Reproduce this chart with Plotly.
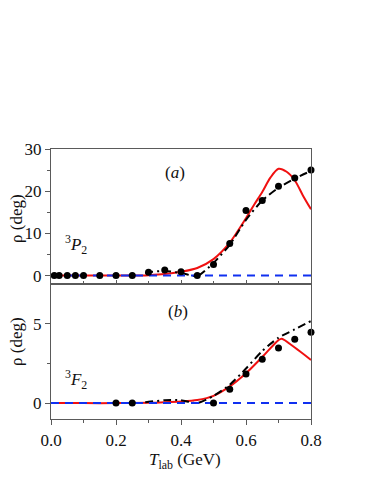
import plotly.graph_objects as go

# ---- data ----
# panel (a) 3P2
a_exp_x = [0.01, 0.025, 0.05, 0.075, 0.1, 0.15, 0.2, 0.25, 0.3, 0.35, 0.4, 0.45, 0.5, 0.55, 0.6, 0.65, 0.7, 0.75, 0.8]
a_exp_y = [0, 0, 0, 0, 0, 0, 0, 0, 0.8, 1.3, 0.9, 0.0, 2.6, 7.6, 15.4, 17.8, 21.2, 23.1, 25.0]
a_red_x = [0.0, 0.1, 0.2, 0.25, 0.3, 0.35, 0.4, 0.45, 0.5, 0.55, 0.6, 0.625, 0.65, 0.675, 0.7, 0.725, 0.75, 0.775, 0.8]
a_red_y = [0, 0, 0, 0, 0.1, 0.35, 0.9, 1.8, 3.9, 7.8, 13.6, 16.8, 19.8, 23.2, 25.3, 24.6, 22.6, 19.0, 15.7]
a_blk_x = [0.29, 0.3, 0.35, 0.4, 0.45, 0.5, 0.55, 0.6, 0.65, 0.7, 0.75, 0.8]
a_blk_y = [0.6, 0.8, 1.1, 0.6, -0.1, 3.0, 7.3, 13.2, 17.8, 20.8, 23.0, 24.8]
a_blue_x = [0.0, 0.8]
a_blue_y = [0, 0]

# panel (b) 3F2
b_exp_x = [0.2, 0.25, 0.5, 0.55, 0.6, 0.65, 0.7, 0.75, 0.8]
b_exp_y = [0, 0, 0, 0.88, 1.84, 2.76, 3.47, 4.02, 4.46]
b_red_x = [0.0, 0.1, 0.2, 0.3, 0.35, 0.4, 0.45, 0.5, 0.55, 0.6, 0.65, 0.7, 0.71, 0.75, 0.8]
b_red_y = [0, 0, 0, 0.02, 0.05, 0.1, 0.2, 0.46, 1.05, 1.88, 2.9, 3.97, 4.06, 3.5, 2.72]
b_blk_x = [0.29, 0.3, 0.35, 0.4, 0.45, 0.5, 0.55, 0.6, 0.65, 0.7, 0.75, 0.8]
b_blk_y = [0.05, 0.08, 0.18, 0.18, 0.0, 0.45, 1.15, 2.18, 3.28, 4.12, 4.64, 5.17]
b_blue_x = [0.0, 0.8]
b_blue_y = [0, 0]

FONT = "Liberation Serif"
RED = "#f01010"
BLUE = "#1030f0"
BLACK = "#000000"
BLUEDASH = "8px,6px"
BLKDASH = "8px,4px,2px,4px"

fig = go.Figure()

def add_panel(xa, ya, rx, ry, kx, ky, bx, by, ex, ey):
    fig.add_trace(go.Scatter(x=rx, y=ry, mode="lines", line=dict(color=RED, width=2, shape="spline", smoothing=0.8),
                             xaxis=xa, yaxis=ya, showlegend=False))
    fig.add_trace(go.Scatter(x=kx, y=ky, mode="lines", line=dict(color=BLACK, width=2, dash=BLKDASH, shape="spline", smoothing=0.6),
                             xaxis=xa, yaxis=ya, showlegend=False))
    fig.add_trace(go.Scatter(x=bx, y=by, mode="lines", line=dict(color=BLUE, width=2, dash=BLUEDASH),
                             xaxis=xa, yaxis=ya, showlegend=False))
    fig.add_trace(go.Scatter(x=ex, y=ey, mode="markers", marker=dict(color=BLACK, size=7),
                             xaxis=xa, yaxis=ya, showlegend=False, cliponaxis=False))

add_panel("x2", "y2", a_red_x, a_red_y, a_blk_x, a_blk_y, a_blue_x, a_blue_y, a_exp_x, a_exp_y)
add_panel("x", "y", b_red_x, b_red_y, b_blk_x, b_blk_y, b_blue_x, b_blue_y, b_exp_x, b_exp_y)

axcol = "#5a5a5a"
tickfont = dict(family=FONT, size=17, color="#111111")

# page offset (body margin) and target plot box in page pixels
OFF = 8
W, H = 374, 484
PL, PR, PT, PB = 51, 311, 149, 419
L, T = PL - OFF, PT - OFF
R, B = W - (PR - OFF), H - (PB - OFF)

common = dict(showline=True, linecolor=axcol, linewidth=1.3, mirror=True, showgrid=False, zeroline=False,
              tickwidth=1.2, tickcolor=axcol)

fig.update_layout(
    width=W, height=H,
    margin=dict(l=L, r=R, t=T, b=B),
    paper_bgcolor="white", plot_bgcolor="white",
    font=dict(family=FONT, size=17, color="#111111"),
    xaxis=dict(domain=[0, 1], anchor="y", range=[0, 0.8], dtick=0.2, tick0=0, tickformat=".1f",
               ticks="outside", ticklen=5,
               minor=dict(dtick=0.1, ticks="outside", ticklen=3, tickcolor=axcol),
               tickfont=tickfont, **common),
    yaxis=dict(domain=[0, 0.5], anchor="x", range=[-1, 7.5], tickvals=[0, 5],
               ticks="outside", ticklen=5,
               minor=dict(tickvals=[2.5], ticks="outside", ticklen=3, tickcolor=axcol),
               tickfont=tickfont, **common),
    xaxis2=dict(domain=[0, 1], anchor="y2", range=[0, 0.8], dtick=0.2, tick0=0, showticklabels=False,
                ticks="inside", ticklen=4,
                minor=dict(dtick=0.1, ticks="inside", ticklen=3, tickcolor=axcol), **common),
    yaxis2=dict(domain=[0.5, 1], anchor="x2", range=[-2, 30], tickvals=[0, 10, 20, 30],
                ticks="outside", ticklen=5,
                minor=dict(tickvals=[5, 15, 25], ticks="outside", ticklen=3, tickcolor=axcol),
                tickfont=tickfont, **common),
)

ann_font = dict(family=FONT, size=17, color="#111111")
fig.add_annotation(x=0.382, y=24.4, xref="x2", yref="y2", text="(<i>a</i>)", showarrow=False, font=ann_font)
fig.add_annotation(x=0.39, y=5.8, xref="x", yref="y", text="(<i>b</i>)", showarrow=False, font=ann_font)
fig.add_annotation(x=0.037, y=7.4, xref="x2", yref="y2", xanchor="left",
                   text="<sup>3</sup><i>P</i><sub>2</sub>", showarrow=False, font=ann_font)
fig.add_annotation(x=0.037, y=1.5, xref="x", yref="y", xanchor="left",
                   text="<sup>3</sup><i>F</i><sub>2</sub>", showarrow=False, font=ann_font)

# axis titles, placed by page pixel centres
pw, ph = PR - PL, PB - PT
def px2paper(px, py):
    return (px - PL) / pw, 1 - (py - PT) / ph

for (px, py, txt, ang) in [(16, 219, "ρ (deg)", -90), (16, 342, "ρ (deg)", -90),
                           (185, 461, "<i>T</i><sub>lab</sub> (GeV)", 0)]:
    x, y = px2paper(px, py)
    fig.add_annotation(x=x, y=y, xref="paper", yref="paper", xanchor="center", yanchor="middle",
                       text=txt, textangle=ang, showarrow=False, font=ann_font)

fig.write_html("out.html")
